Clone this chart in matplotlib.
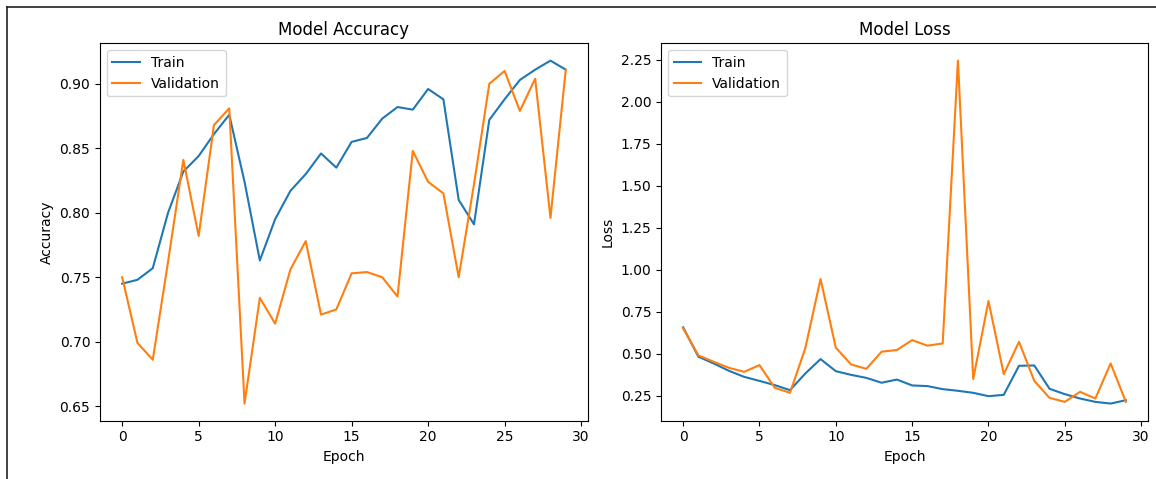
import matplotlib
matplotlib.use("Agg")
import matplotlib.pyplot as plt
from matplotlib.lines import Line2D

# training history, one value per epoch
epochs = list(range(30))
train_acc = [0.745, 0.748, 0.757, 0.800, 0.832, 0.844, 0.861, 0.876, 0.824, 0.763,
             0.795, 0.817, 0.830, 0.846, 0.835, 0.855, 0.858, 0.873, 0.882, 0.880,
             0.896, 0.888, 0.810, 0.791, 0.872, 0.888, 0.903, 0.911, 0.918, 0.911]
val_acc = [0.750, 0.699, 0.686, 0.762, 0.841, 0.782, 0.868, 0.881, 0.652, 0.734,
           0.714, 0.756, 0.778, 0.721, 0.725, 0.753, 0.754, 0.750, 0.735, 0.848,
           0.824, 0.815, 0.750, 0.822, 0.900, 0.910, 0.879, 0.904, 0.796, 0.911]
train_loss = [0.656, 0.481, 0.441, 0.397, 0.361, 0.337, 0.312, 0.282, 0.381, 0.467,
              0.395, 0.373, 0.355, 0.326, 0.345, 0.310, 0.306, 0.288, 0.278, 0.266,
              0.246, 0.254, 0.427, 0.429, 0.290, 0.258, 0.232, 0.212, 0.202, 0.222]
val_loss = [0.650, 0.489, 0.451, 0.415, 0.391, 0.431, 0.296, 0.266, 0.531, 0.944,
            0.535, 0.435, 0.409, 0.511, 0.521, 0.580, 0.547, 0.560, 2.245, 0.348,
            0.813, 0.377, 0.570, 0.337, 0.236, 0.212, 0.272, 0.232, 0.441, 0.212]

fig = plt.figure(figsize=(11.56, 4.79), dpi=100)
ax1 = fig.add_axes([0.0865, 0.1217, 0.4221, 0.7875])
ax2 = fig.add_axes([0.5718, 0.1217, 0.4213, 0.7875])

panels = [
    (ax1, train_acc, val_acc, "Model Accuracy", "Accuracy"),
    (ax2, train_loss, val_loss, "Model Loss", "Loss"),
]
for ax, tr, va, title, ylab in panels:
    ax.plot(epochs, tr, color="#1f77b4", label="Train")
    ax.plot(epochs, va, color="#ff7f0e", label="Validation")
    ax.set_title(title, fontsize=12)
    ax.set_xlabel("Epoch")
    ax.set_ylabel(ylab)
    ax.legend(loc="upper left")

ax1.set_yticks([0.65, 0.70, 0.75, 0.80, 0.85, 0.90])
ax2.set_yticks([0.25, 0.50, 0.75, 1.00, 1.25, 1.50, 1.75, 2.00, 2.25])

# thin frame around the screenshot (top and left edges)
W, H = 1156, 479
x0, y0 = 7 / W, 1 - 7 / H
fig.add_artist(Line2D([x0, 1.0], [y0, y0], transform=fig.transFigure,
                      color="#222222", linewidth=1.2))
fig.add_artist(Line2D([x0, x0], [0.0, y0], transform=fig.transFigure,
                      color="#222222", linewidth=1.2))

fig.savefig("out.png", dpi=100)
